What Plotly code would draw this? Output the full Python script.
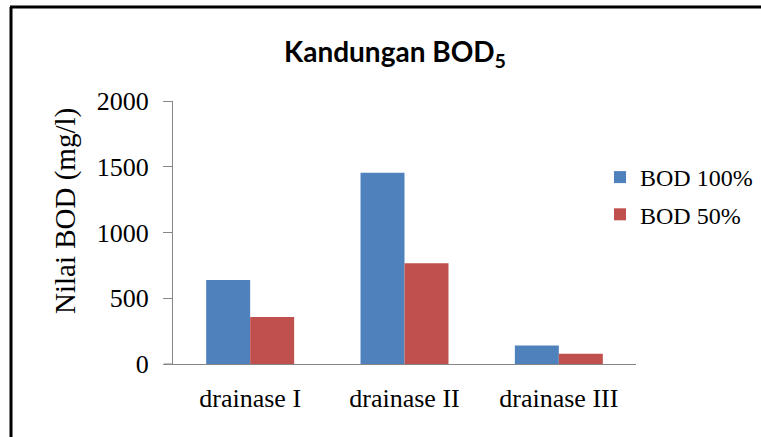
import plotly.graph_objects as go

categories = ["drainase I", "drainase II", "drainase III"]
bod_100 = [638, 1454, 141]
bod_50 = [357, 767, 78]
series_names = ["BOD 100%", "BOD 50%"]
y_ticks = [0, 500, 1000, 1500, 2000]

W, H = 761, 437
L, R, T, B = 173, 125, 101, 73
pw, ph = W - L - R, H - T - B

def px_x(p):
    return (p - L) / pw

def px_y(p):
    return (H - B - p) / ph

serif = "Liberation Serif, Times New Roman, serif"

fig = go.Figure()
fig.add_trace(go.Bar(x=categories, y=bod_100, name=series_names[0],
                     marker=dict(color="#4F81BD", line=dict(width=0)), legendgroup="a"))
fig.add_trace(go.Bar(x=categories, y=bod_50, name=series_names[1],
                     marker=dict(color="#C0504D", line=dict(width=0)), legendgroup="b"))

fig.update_layout(
    width=W, height=H,
    margin=dict(l=L, r=R, t=T, b=B, pad=0, autoexpand=False),
    paper_bgcolor="white", plot_bgcolor="white",
    barmode="group", bargap=0.43, bargroupgap=0,
    title=dict(text="<b>Kandungan BOD<sub>5</sub></b>", x=395 / W, xref="container",
               xanchor="center", y=1 - 52 / H, yref="container", yanchor="middle",
               font=dict(family="Lato, Carlito, Calibri, sans-serif", size=28, color="black")),
    font=dict(family=serif, size=24, color="black"),
    legend=dict(x=px_x(600), xanchor="left", y=px_y(155), yanchor="top",
                font=dict(family=serif, size=24, color="black"),
                traceorder="grouped", tracegroupgap=3, itemwidth=30,
                bgcolor="rgba(0,0,0,0)"),
    showlegend=True,
)
fig.update_yaxes(range=[0, 2000], tickvals=y_ticks, showgrid=False, zeroline=False,
                 showline=True, linecolor="#868686", linewidth=1,
                 ticks="outside", ticklen=9, tickcolor="#868686",
                 tickfont=dict(family=serif, size=26, color="black"),
                 ticklabelstandoff=9)
fig.update_xaxes(showgrid=False, showline=True, linecolor="#868686", linewidth=1,
                 ticks="", tickfont=dict(family=serif, size=26, color="black"),
                 ticklabelstandoff=11)

# y-axis title
fig.add_annotation(text="Nilai BOD (mg/l)", xref="paper", yref="paper",
                   x=px_x(65), y=px_y(211), xanchor="center", yanchor="middle",
                   textangle=-90, showarrow=False,
                   font=dict(family=serif, size=29, color="black"))

# extend x-axis line to the left like the 0 tick
fig.add_shape(type="line", xref="paper", yref="paper", x0=px_x(164), x1=0, y0=0, y1=0,
              line=dict(color="#868686", width=1))
# outer frame (left and top edges)
fig.add_shape(type="line", xref="paper", yref="paper", x0=px_x(11), x1=px_x(11),
              y0=px_y(7), y1=px_y(440), line=dict(color="black", width=3))
fig.add_shape(type="line", xref="paper", yref="paper", x0=px_x(10), x1=px_x(765),
              y0=px_y(7), y1=px_y(7), line=dict(color="black", width=3))

fig.write_html("out.html", config={"displayModeBar": False},
               post_script="document.body.style.margin='0';document.body.style.overflow='hidden';")
